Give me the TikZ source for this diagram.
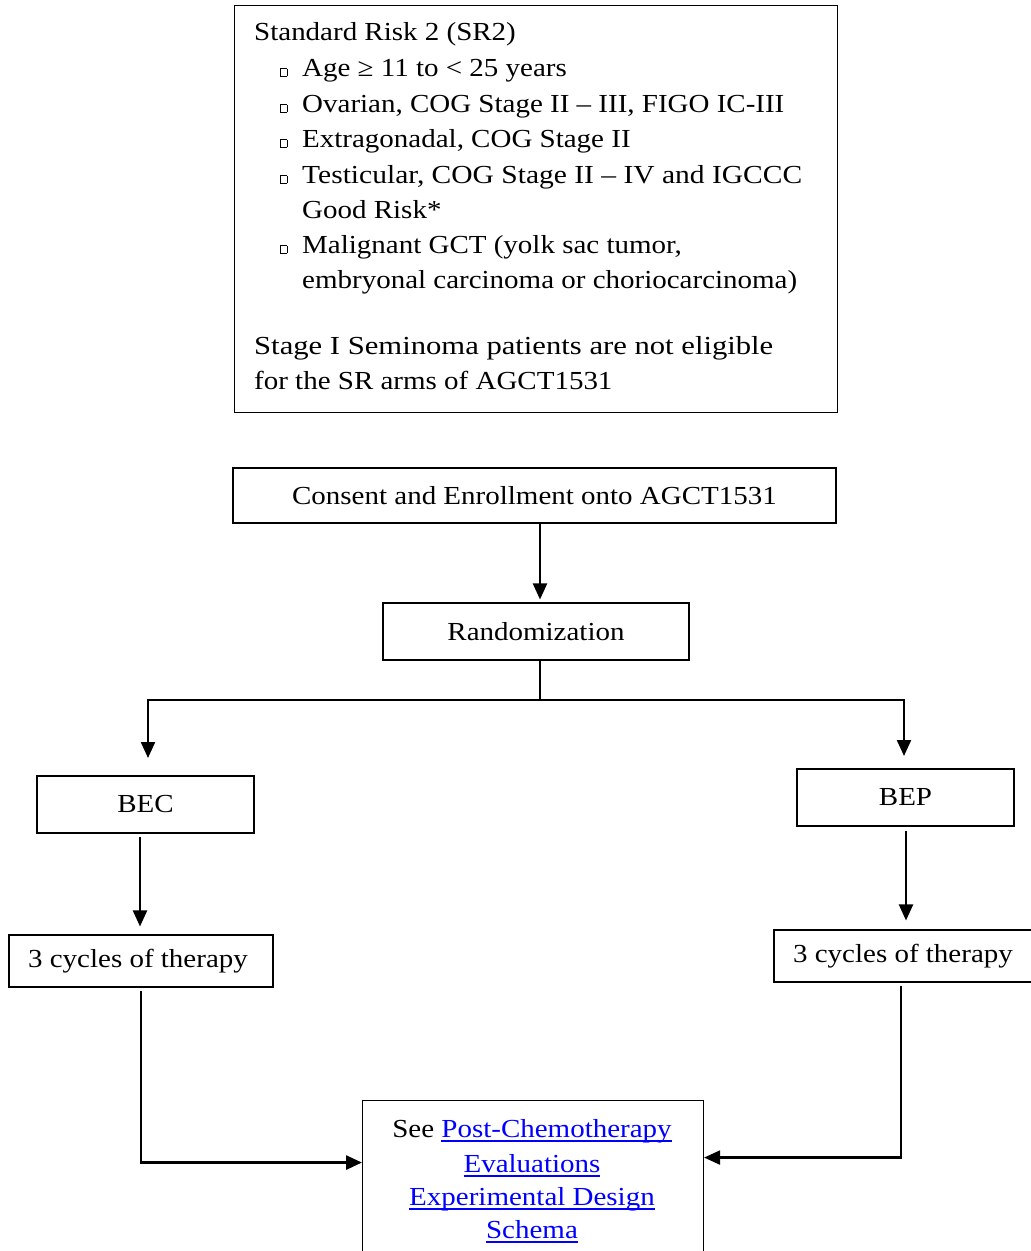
\documentclass[tikz,border=0pt]{standalone}
\usepackage{graphicx}
\usepackage{fontspec}
\setmainfont{Liberation Serif}[FakeStretch=1.115]
\usetikzlibrary{arrows.meta}
\definecolor{linkblue}{RGB}{0,0,255}
\newcommand{\chkbox}{{\fboxsep=0pt\fboxrule=0.6pt\fbox{\rule{0pt}{7pt}\rule{6pt}{0pt}}}}
\newcommand{\lnk}[1]{{\color{linkblue}\setbox0\hbox{#1}\rlap{\rule[-5pt]{\wd0}{1.6pt}}\box0}}
\tikzset{
  box/.style={draw=black, line width=1.1pt, inner sep=0pt, fill=white},
  txt/.style={inner sep=0pt, font=\fontsize{26}{34}\selectfont},
  arr/.style={line width=2.2pt, -{Triangle[length=16pt,width=14pt]}},
  plain/.style={line width=2pt},
}
\begin{document}
\begin{tikzpicture}[x=1pt,y=-1pt]
\useasboundingbox (0,0) rectangle (1031,1251);
% criteria box
\node[box, minimum width=603, minimum height=407, anchor=north west] (crit) at (234,5) {};
\node[txt, anchor=base west] (c0) at (254,40) {Standard Risk 2 (SR2)};
\node[txt, anchor=base west] (c1) at (280,76) {\makebox[22pt][l]{\chkbox}Age ≥ 11 to < 25 years};
\node[txt, anchor=base west] (c2) at (280,112) {\makebox[22pt][l]{\chkbox}Ovarian, COG Stage II – III, FIGO IC-III};
\node[txt, anchor=base west] (c3) at (280,147) {\makebox[22pt][l]{\chkbox}Extragonadal, COG Stage II};
\node[txt, anchor=base west] (c4) at (280,183) {\makebox[22pt][l]{\chkbox}\scalebox{1.018}[1]{Testicular, COG Stage II – IV and IGCCC}};
\node[txt, anchor=base west] (c4b) at (302,218) {Good Risk*};
\node[txt, anchor=base west] (c5) at (280,253) {\makebox[22pt][l]{\chkbox}Malignant GCT (yolk sac tumor,};
\node[txt, anchor=base west] (c5b) at (302,288) {embryonal carcinoma or choriocarcinoma)};
\node[txt, anchor=base west] (c6) at (254,354) {\scalebox{1.057}[1]{Stage I Seminoma patients are not eligible}};
\node[txt, anchor=base west] (c6b) at (254,389) {for the SR arms of AGCT1531};
% flow boxes
\node[box, txt, minimum width=603, minimum height=55] (consent) at (534.5,495.5) {Consent and Enrollment onto AGCT1531};
\node[box, txt, minimum width=306, minimum height=57] (rand) at (536,631.5) {Randomization};
\node[box, txt, minimum width=217, minimum height=57] (bec) at (145.5,804.5) {BEC};
\node[box, txt, minimum width=217, minimum height=57] (bep) at (905.5,797.5) {BEP};
\node[box, txt, minimum width=264, minimum height=52] (cycl) at (141,961) {\hspace{-6pt}3 cycles of therapy};
\node[box, txt, minimum width=264, minimum height=52] (cycr) at (906,956) {\hspace{-6pt}3 cycles of therapy};
\node[box, minimum width=341, minimum height=170, anchor=north west] (final) at (362,1100) {};
\node[txt, anchor=base] (f1) at (532,1137) {See \lnk{Post-Chemotherapy}};
\node[txt, anchor=base] (f2) at (532,1172) {\lnk{Evaluations}};
\node[txt, anchor=base] (f3) at (532,1205) {\lnk{Experimental Design}};
\node[txt, anchor=base] (f4) at (532,1238) {\lnk{Schema}};
% connectors
\coordinate (split) at (540,700);
\coordinate (hl) at (148,700);
\coordinate (hr) at (904,700);
\coordinate (al) at (148,758);
\coordinate (ar) at (904,756);
\draw[arr] ([xshift=5.5pt]consent.south) -- ([xshift=4pt,yshift=3pt]rand.north);
\draw[line width=1.4pt] ([xshift=4pt]rand.south) -- (split);
\draw[plain] ([xshift=-1pt]hl) -- ([xshift=1pt]hr);
\draw[arr] (hl) -- (al);
\draw[arr] (hr) -- (ar);
\draw[arr] ([xshift=-5.5pt,yshift=-3pt]bec.south) -- ([xshift=-1pt,yshift=8pt]cycl.north);
\draw[arr] ([xshift=0.5pt,yshift=-4pt]bep.south) -- ([yshift=9pt]cycr.north);
\draw[arr, line width=2.8pt] ([yshift=-3pt]cycl.south) |- ([yshift=23pt]final.west);
\draw[arr] ([xshift=-5pt,yshift=-3pt]cycr.south) |- ([yshift=28pt]final.east);
\end{tikzpicture}
\end{document}
